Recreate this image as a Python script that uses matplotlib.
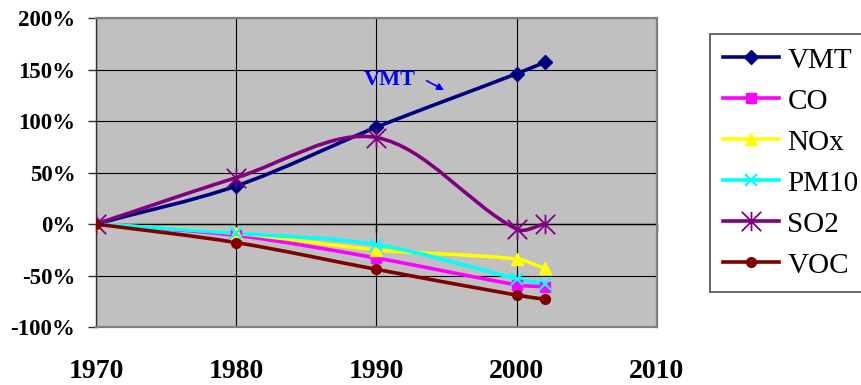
import numpy as np
import matplotlib
matplotlib.use("Agg")
import matplotlib.pyplot as plt
from matplotlib.path import Path
from matplotlib.patches import PathPatch
from matplotlib.lines import Line2D
from matplotlib.ticker import FuncFormatter

# Percent change since 1970
years = [1970, 1980, 1990, 2000, 2002]
vmt = [0, 37, 94, 146, 157]
co = [0, -11, -33, -59, -61]
nox = [0, -9, -25, -34, -43]
pm10 = [0, -9, -20, -53, -58]
so2 = [0, 45, 84, -5, 0]
voc = [0, -18, -44, -69, -73]

series_names = ["VMT", "CO", "NOx", "PM10", "SO2", "VOC"]
series_values = [vmt, co, nox, pm10, so2, voc]
year_ticks = [1970, 1980, 1990, 2000, 2010]
pct_ticks = [-100, -50, 0, 50, 100, 150, 200]

# asterisk-style marker: vertical bar plus an x
star = Path([(0, -1), (0, 1), (-1, -1), (1, 1), (-1, 1), (1, -1)],
            [Path.MOVETO, Path.LINETO] * 3)

styles = {
    "VMT": dict(color="#000080", marker="D", ms=7),
    "CO": dict(color="#FF00FF", marker="s", ms=7),
    "NOx": dict(color="#FFFF00", marker="^", ms=8),
    "PM10": dict(color="#00FFFF", marker="x", ms=8, mew=1.6),
    "SO2": dict(color="#800080", marker=star, ms=14, mew=1.3, mfc="none"),
    "VOC": dict(color="#800000", marker="o", ms=7),
}


def smooth_path(xs, ys, sx, sy):
    # smoothed line: cubic Bezier through every point, tangents scaled
    # by chord lengths measured in screen units (sx, sy = px per unit)
    pts = np.column_stack([np.asarray(xs) * sx, np.asarray(ys) * sy]).astype(float)
    n = len(pts)
    d = np.hypot(*np.diff(pts, axis=0).T)
    tang = []
    for i in range(n):
        if i == 0:
            tang.append((pts[1] - pts[0]) / d[0])
        elif i == n - 1:
            tang.append((pts[-1] - pts[-2]) / d[-1])
        else:
            tang.append((pts[i + 1] - pts[i - 1]) / (d[i - 1] + d[i]))
    verts = [pts[0]]
    codes = [Path.MOVETO]
    for i in range(n - 1):
        c1 = pts[i] + tang[i] * d[i] / 3
        c2 = pts[i + 1] - tang[i + 1] * d[i] / 3
        verts += [c1, c2, pts[i + 1]]
        codes += [Path.CURVE4] * 3
    verts = np.array(verts) / [sx, sy]
    return Path(verts, codes)


plt.rcParams["font.family"] = "Liberation Serif"

fig = plt.figure(figsize=(8.62, 3.85), dpi=100)
ax = fig.add_axes([0.1114, 0.1506, 0.6506, 0.8024])
ax.set_facecolor("#C0C0C0")
ax.set_xlim(1970, 2010)
ax.set_ylim(-100, 200)

px_x = ax.bbox.width / 40.0
px_y = ax.bbox.height / 300.0

handles = []
for name, vals in zip(series_names, series_values):
    st = styles[name]
    ax.add_patch(PathPatch(smooth_path(years, vals, px_x, px_y), fill=False,
                           edgecolor=st["color"], lw=2.6, zorder=3,
                           capstyle="round", joinstyle="round"))
    ax.plot(years, vals, linestyle="none", marker=st["marker"],
            ms=st["ms"], color=st["color"], mec=st["color"],
            mfc=st.get("mfc", st["color"]), mew=st.get("mew", 1), zorder=4)
    handles.append(Line2D([], [], color=st["color"], lw=2.6,
                          marker=st["marker"], ms=st["ms"], mec=st["color"],
                          mfc=st.get("mfc", st["color"]), mew=st.get("mew", 1)))

ax.set_xticks(year_ticks)
ax.set_yticks(pct_ticks)
ax.yaxis.set_major_formatter(FuncFormatter(lambda v, p: f"{v:.0f}%"))
ax.grid(True, color="black", lw=0.8)
ax.set_axisbelow(True)

ax.tick_params(axis="x", length=0, pad=23, labelsize=20)
ax.tick_params(axis="y", length=6, width=1, pad=9, labelsize=16.5,
               color="#303030")
for lab in ax.get_xticklabels() + ax.get_yticklabels():
    lab.set_fontweight("bold")

for side in ["top", "right", "bottom"]:
    ax.spines[side].set_color("#808080")
    ax.spines[side].set_linewidth(1.6)
ax.spines["left"].set_color("#303030")
ax.spines["left"].set_linewidth(1)

# horizontal axis line crossing at 0%
sec = ax.secondary_xaxis(1 / 3)
sec.set_xticks(year_ticks)
sec.tick_params(axis="x", length=6, width=1, color="black",
                labelbottom=False, labeltop=False)
for s in sec.spines.values():
    s.set_color("black")
    s.set_linewidth(1)

ax.text(1989.1, 134.6, "VMT", color="#0000FF", fontsize=16,
        fontweight="bold", ha="left", va="baseline", zorder=5)
ax.annotate("", xy=(1995.0, 128.8), xytext=(1993.4, 140.5),
            arrowprops=dict(arrowstyle="-|>", color="#0000FF", lw=1.2,
                            mutation_scale=10), zorder=5)

leg = fig.legend(handles, series_names, loc="upper left",
                 bbox_to_anchor=(0.8237, 0.9117), borderaxespad=0,
                 fontsize=21, frameon=True, fancybox=False,
                 handlelength=1.9, handletextpad=0.3, borderpad=0.45,
                 labelspacing=0.5, numpoints=1)
leg.get_frame().set_edgecolor("#202020")
leg.get_frame().set_linewidth(1.2)

fig.savefig("out.png", dpi=100)
